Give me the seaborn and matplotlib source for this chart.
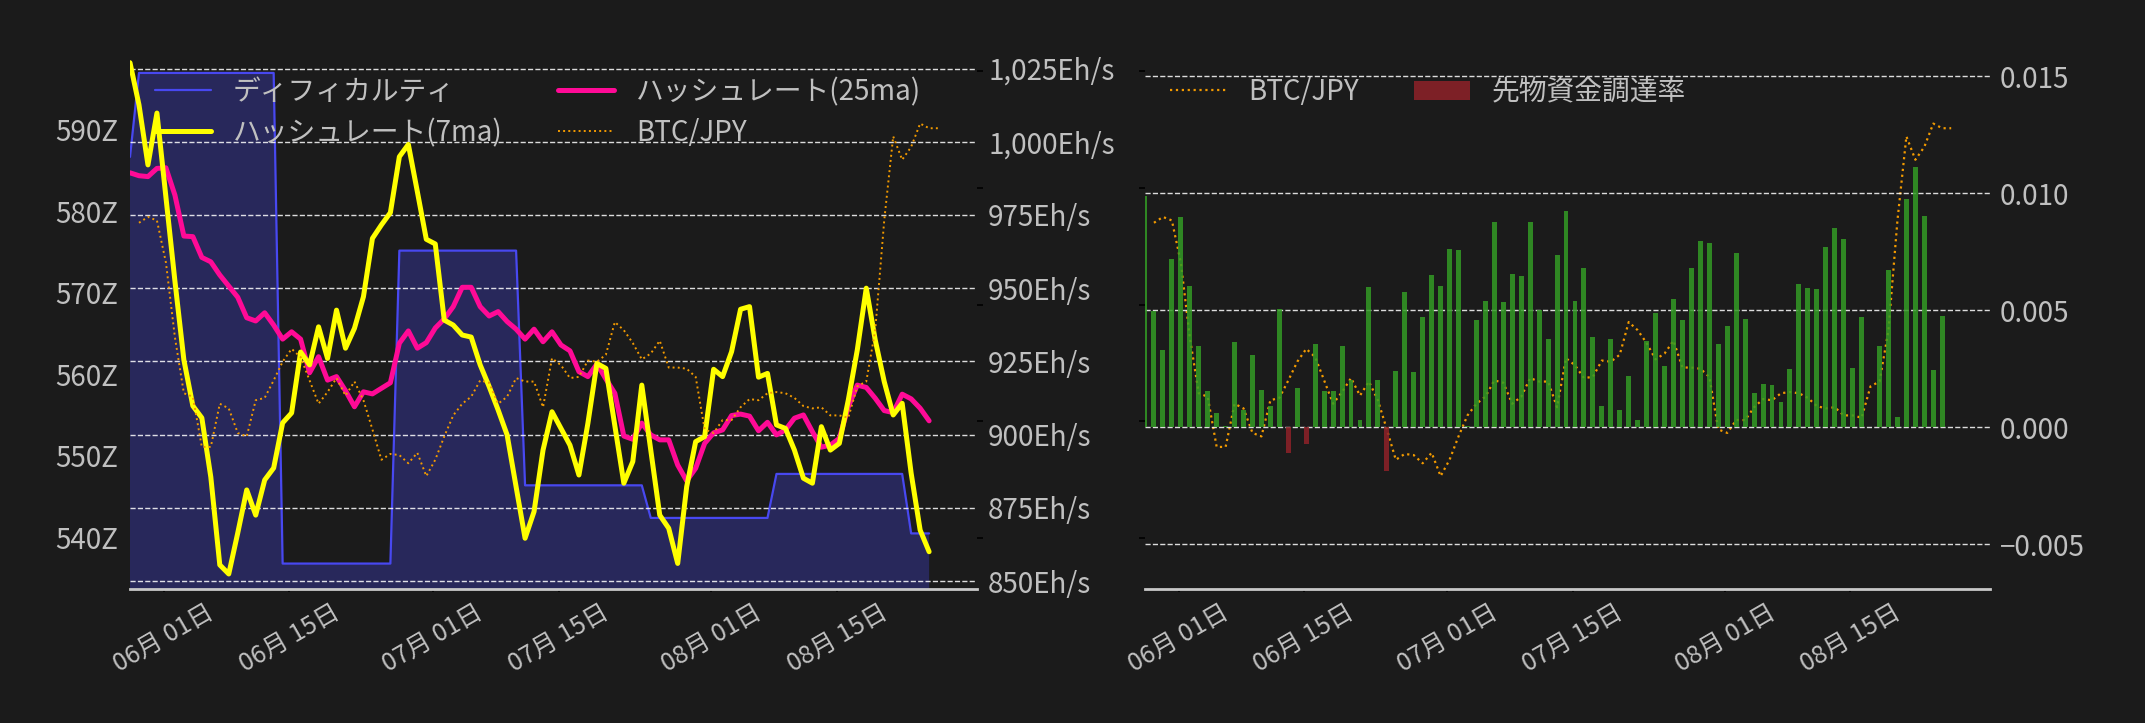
import numpy as np
import pandas as pd
import matplotlib
matplotlib.use('Agg')
import matplotlib.pyplot as plt
import matplotlib.dates as mdates
import matplotlib.ticker as mticker
import seaborn as sns

# daily data, one point per day
dates = pd.date_range('2025-05-28 06:00', periods=90, freq='D')
btc_dates = pd.date_range('2025-05-29 06:00', periods=90, freq='D')

# difficulty (Z)
difficulty = [
    586.7, 597.0, 597.0, 597.0, 597.0, 597.0, 597.0, 597.0, 597.0, 597.0,
    597.0, 597.0, 597.0, 597.0, 597.0, 597.0, 597.0, 536.8, 536.8, 536.8,
    536.8, 536.8, 536.8, 536.8, 536.8, 536.8, 536.8, 536.8, 536.8, 536.8,
    575.2, 575.2, 575.2, 575.2, 575.2, 575.2, 575.2, 575.2, 575.2, 575.2,
    575.2, 575.2, 575.2, 575.2, 546.4, 546.4, 546.4, 546.4, 546.4, 546.4,
    546.4, 546.4, 546.4, 546.4, 546.4, 546.4, 546.4, 546.4, 542.4, 542.4,
    542.4, 542.4, 542.4, 542.4, 542.4, 542.4, 542.4, 542.4, 542.4, 542.4,
    542.4, 542.4, 547.8, 547.8, 547.8, 547.8, 547.8, 547.8, 547.8, 547.8,
    547.8, 547.8, 547.8, 547.8, 547.8, 547.8, 547.8, 540.5, 540.5, 540.5,
]

# hashrate (Eh/s)
hashrate_7ma = [
    1027.0, 1012.6, 992.1, 1009.8, 981.1, 952.5, 925.5, 909.8, 905.7, 885.5,
    855.5, 852.4, 866.4, 881.1, 872.5, 884.5, 888.6, 904.0, 907.4, 928.2,
    923.8, 936.8, 926.0, 942.5, 929.5, 936.3, 947.1, 967.0, 971.6, 975.8,
    994.9, 999.1, 983.0, 966.7, 965.1, 939.1, 937.4, 934.0, 933.3, 923.8,
    916.4, 908.4, 899.9, 882.2, 864.6, 873.7, 894.7, 907.8, 902.1, 896.4,
    886.2, 903.9, 924.3, 922.6, 903.0, 883.4, 890.8, 916.9, 894.7, 872.5,
    868.0, 856.0, 882.2, 897.6, 899.3, 922.3, 919.8, 928.3, 942.8, 943.7,
    919.6, 920.9, 903.3, 902.1, 894.7, 885.1, 883.4, 902.7, 894.7, 897.0,
    911.8, 928.9, 950.0, 932.3, 918.1, 906.7, 910.7, 886.8, 867.4, 860.0,
]
hashrate_25ma = [
    989.4, 988.4, 988.1, 990.9, 991.1, 981.8, 967.8, 967.6, 960.5, 959.0,
    954.5, 950.7, 946.9, 939.9, 938.8, 941.6, 937.4, 932.6, 935.1, 932.6,
    921.1, 926.6, 918.6, 919.8, 915.0, 909.5, 914.6, 913.9, 915.8, 917.7,
    931.2, 935.4, 929.5, 931.4, 936.4, 939.5, 943.7, 950.3, 950.3, 943.7,
    940.5, 942.0, 938.6, 936.0, 932.6, 936.0, 931.7, 935.1, 930.6, 928.6,
    921.5, 919.8, 924.1, 919.0, 914.1, 899.5, 898.4, 903.9, 899.9, 898.2,
    898.2, 889.6, 884.2, 888.5, 897.0, 900.6, 901.6, 906.5, 907.0, 906.3,
    901.3, 904.2, 899.9, 901.6, 905.6, 906.7, 901.0, 895.7, 896.4, 898.7,
    909.5, 916.9, 916.1, 912.4, 908.2, 907.5, 913.8, 912.2, 909.0, 904.7,
]

# BTC/JPY (million yen)
btc_jpy_m = [
    16.70, 16.75, 16.72, 16.36, 15.72, 15.24, 15.21, 14.78, 14.78, 15.15,
    15.11, 14.90, 14.87, 15.18, 15.20, 15.35, 15.51, 15.62, 15.55, 15.35,
    15.15, 15.25, 15.37, 15.22, 15.34, 15.18, 14.93, 14.67, 14.72, 14.71,
    14.64, 14.73, 14.53, 14.67, 14.87, 15.05, 15.15, 15.21, 15.35, 15.33,
    15.15, 15.21, 15.37, 15.34, 15.34, 15.12, 15.54, 15.48, 15.37, 15.38,
    15.52, 15.51, 15.57, 15.85, 15.78, 15.67, 15.53, 15.58, 15.69, 15.46,
    15.46, 15.45, 15.38, 14.93, 14.90, 15.01, 15.01, 15.12, 15.19, 15.18,
    15.24, 15.25, 15.24, 15.20, 15.13, 15.11, 15.12, 15.05, 15.05, 15.03,
    15.30, 15.34, 15.78, 16.72, 17.44, 17.24, 17.35, 17.55, 17.51, 17.51,
]

# futures funding rate
funding_rate = [
    0.00986, 0.00494, 0.00330, 0.00719, 0.00896, 0.00604, 0.00348, 0.00152, 0.00060, 0.00006,
    0.00362, 0.00074, 0.00309, 0.00160, 0.00091, 0.00506, -0.00113, 0.00168, -0.00074, 0.00356,
    0.00152, 0.00155, 0.00345, 0.00199, 0.00031, 0.00598, 0.00202, -0.00187, 0.00241, 0.00577,
    0.00234, 0.00472, 0.00651, 0.00604, 0.00762, 0.00758, 0.00006, 0.00459, 0.00540, 0.00875,
    0.00536, 0.00655, 0.00647, 0.00875, 0.00499, 0.00377, 0.00736, 0.00925, 0.00540, 0.00679,
    0.00383, 0.00091, 0.00377, 0.00074, 0.00219, 0.00031, 0.00369, 0.00487, 0.00259, 0.00548,
    0.00459, 0.00681, 0.00796, 0.00788, 0.00356, 0.00433, 0.00745, 0.00463, 0.00147, 0.00185,
    0.00181, 0.00108, 0.00249, 0.00613, 0.00595, 0.00591, 0.00771, 0.00852, 0.00805, 0.00254,
    0.00472, 0.00000, 0.00348, 0.00672, 0.00044, 0.00976, 0.01113, 0.00903, 0.00245, 0.00476,
]

BG = '#1b1b1b'
TXT = '#c0c0c0'
BLUE = '#4848f0'
YELLOW = '#ffff00'
PINK = '#ff0a96'
ORANGE = '#f29a00'
GREEN = '#339b25'
RED = '#8f2128'

sns.set_theme(style='dark', rc={
    'figure.facecolor': BG, 'axes.facecolor': BG, 'savefig.facecolor': BG,
    'text.color': TXT, 'xtick.color': TXT, 'ytick.color': TXT,
    'axes.labelcolor': TXT,
})
plt.rcParams['font.family'] = ['Noto Sans CJK JP', 'DejaVu Sans']
plt.rcParams['font.size'] = 10

W, H = 2145, 723
fig = plt.figure(figsize=(W / 200, H / 200), dpi=200)
top_px, bot_px = 52, 589
ax1 = fig.add_axes([130 / W, (H - bot_px) / H, 847 / W, (bot_px - top_px) / H])
ax2 = ax1.twinx()
ax3 = ax1.twinx()
axb = fig.add_axes([1145 / W, (H - bot_px) / H, 845 / W, (bot_px - top_px) / H])
axf = axb.twinx()

xmin = dates[0]
xmax = pd.Timestamp('2025-08-30 14:00')

# ---- left chart ----
ax1.fill_between(dates, difficulty, 0, color=BLUE, alpha=0.3, lw=0)
sns.lineplot(x=dates, y=difficulty, ax=ax1, color=BLUE, lw=0.8, label='ディフィカルティ')
sns.lineplot(x=dates, y=hashrate_25ma, ax=ax2, color=PINK, lw=1.8, label='ハッシュレート(25ma)')
sns.lineplot(x=dates, y=hashrate_7ma, ax=ax2, color=YELLOW, lw=1.8, label='ハッシュレート(7ma)')
sns.lineplot(x=btc_dates, y=btc_jpy_m, ax=ax3, color=ORANGE, lw=0.7, ls=':', label='BTC/JPY')

ax1.set_ylim(533.68, 599.57)
ax1.set_yticks([540, 550, 560, 570, 580, 590])
ax1.yaxis.set_major_formatter(mticker.FuncFormatter(lambda v, _: f'{v:.0f}Z'))
ax2.set_ylim(847.27, 1030.65)
ax2.yaxis.set_major_locator(mticker.MultipleLocator(25))
ax2.yaxis.set_major_formatter(mticker.FuncFormatter(lambda v, _: f'{v:,.0f}Eh/s'))
ax2.grid(axis='y', color='white', ls='--', lw=0.5, alpha=0.85)
ax3.set_ylim(13.563, 18.163)
ax3.yaxis.set_major_locator(mticker.MultipleLocator(1))

# ---- right chart ----
sns.lineplot(x=btc_dates, y=btc_jpy_m, ax=axb, color=ORANGE, lw=0.8, ls=':', label='BTC/JPY')
fr = np.array(funding_rate)
pos = fr >= 0
axf.bar(dates[pos], fr[pos], width=0.55, color=GREEN, alpha=0.85, lw=0, edgecolor='none')
neg_bars = axf.bar(dates[~pos], fr[~pos], width=0.55, color=RED, alpha=0.85, lw=0,
                   edgecolor='none', label='先物資金調達率')
axb.set_ylim(13.563, 18.163)
axb.yaxis.set_major_locator(mticker.MultipleLocator(1))
axf.set_ylim(-0.006923, 0.016026)
axf.yaxis.set_major_locator(mticker.MultipleLocator(0.005))
axf.grid(axis='y', color='white', ls='--', lw=0.5, alpha=0.85)

for ax in [ax1, ax2, ax3, axb, axf]:
    if ax.get_legend() is not None:
        ax.get_legend().remove()
    ax.set_xlabel('')
    ax.set_ylabel('')
    ax.set_xlim(xmin, xmax)
    for s in ax.spines.values():
        s.set_visible(False)

for ax in [ax1, axb]:
    ax.spines['bottom'].set_visible(True)
    ax.spines['bottom'].set_color('#c8c8c8')
    ax.spines['bottom'].set_linewidth(1.0)
    ax.xaxis.set_major_locator(mdates.DayLocator(bymonthday=[1, 15]))
    ax.xaxis.set_major_formatter(mdates.DateFormatter('%m月 %d日'))
    ax.tick_params(axis='x', bottom=True, labelrotation=30, length=1.2, width=0.6,
                   pad=2.5, labelsize=9, color='black', labelcolor=TXT)

ax1.tick_params(axis='y', length=0, pad=4.3, labelsize=10, labelcolor=TXT)
ax2.tick_params(axis='y', length=0, pad=4.0, labelsize=10, labelcolor=TXT)
ax3.tick_params(axis='y', right=True, length=2, width=0.6, color='black', labelright=False)
axb.tick_params(axis='y', left=True, length=2, width=0.6, color='black', labelleft=False)
axf.tick_params(axis='y', length=0, pad=3.6, labelsize=10, labelcolor=TXT)

h_left = [ax1.lines[0], ax2.lines[1], ax2.lines[0], ax3.lines[0]]
l_left = ['ディフィカルティ', 'ハッシュレート(7ma)', 'ハッシュレート(25ma)', 'BTC/JPY']
ax3.legend(h_left, l_left, loc='upper left', ncol=2, frameon=False,
           fontsize=10, labelcolor=TXT, labelspacing=0.4)
axf.legend([axb.lines[0], neg_bars], ['BTC/JPY', '先物資金調達率'], loc='upper left',
           ncol=2, frameon=False, fontsize=10, labelcolor=TXT)

fig.savefig('out.png', dpi=200, facecolor=BG)
